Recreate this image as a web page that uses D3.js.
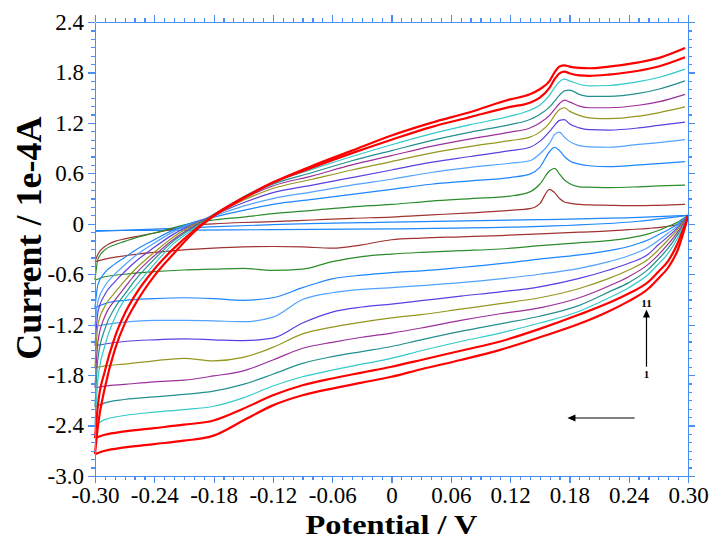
<!DOCTYPE html>
<meta charset="utf-8">
<title>CV scans</title>
<style>
body { margin: 0; background: #fff; }
svg { display: block; font-family: "Liberation Serif", "Times New Roman", serif; }
.axis path, .axis line { stroke: #4a8ff5; stroke-width: 1.2; shape-rendering: crispEdges; }
.axis text { fill: #000; font-size: 23px; }
.title { font-weight: bold; fill: #000; }
.scan { fill: none; }
</style>
<body>
<div id="chart"></div>
<script src="https://cdn.jsdelivr.net/npm/d3@7"></script>
<script>

// tick labels
var xTicks = [-0.30, -0.24, -0.18, -0.12, -0.06, 0, 0.06, 0.12, 0.18, 0.24, 0.30],
    xTickLabels = ['-0.30', '-0.24', '-0.18', '-0.12', '-0.06', '0', '0.06', '0.12', '0.18', '0.24', '0.30'],
    yTicks = [2.4, 1.8, 1.2, 0.6, 0, -0.6, -1.2, -1.8, -2.4, -3.0],
    yTickLabels = ['2.4', '1.8', '1.2', '0.6', '0', '-0.6', '-1.2', '-1.8', '-2.4', '-3.0'];

// potentials of the forward (anodic) branch and the return (cathodic) branch
var upX = [-0.300, -0.297, -0.29, -0.28, -0.27, -0.26, -0.24, -0.22, -0.20, -0.18, -0.15, -0.12, -0.08, -0.04, 0.00,
           0.04, 0.08, 0.12, 0.14, 0.15, 0.16, 0.165, 0.17, 0.175, 0.18, 0.19, 0.20, 0.22, 0.25, 0.27, 0.297];
var loX = [0.30, 0.298, 0.295, 0.29, 0.28, 0.27, 0.26, 0.24, 0.22, 0.19, 0.15, 0.11, 0.07, 0.03, 0.0,
           -0.03, -0.06, -0.09, -0.12, -0.15, -0.18, -0.21, -0.24, -0.27, -0.29, -0.30];

// current, 1e-4 A, scans 1..11
var up1  = [-0.45, -0.36, -0.27, -0.21, -0.18, -0.155, -0.11, -0.06, -0.015, 0.0, 0.015, 0.025, 0.045, 0.065, 0.08,
            0.105, 0.13, 0.16, 0.18, 0.24, 0.41, 0.37, 0.30, 0.26, 0.245, 0.23, 0.225, 0.22, 0.215, 0.22, 0.23];
var up2  = [-0.67, -0.42, -0.31, -0.25, -0.21, -0.17, -0.11, -0.045, 0.01, 0.045, 0.08, 0.12, 0.16, 0.20, 0.23,
            0.27, 0.30, 0.33, 0.38, 0.47, 0.63, 0.66, 0.59, 0.52, 0.48, 0.44, 0.435, 0.43, 0.44, 0.45, 0.46];
var up3  = [-1.0, -0.72, -0.58, -0.48, -0.40, -0.32, -0.19, -0.07, 0.02, 0.08, 0.16, 0.23, 0.29, 0.35, 0.41,
            0.47, 0.51, 0.55, 0.59, 0.67, 0.86, 0.91, 0.87, 0.80, 0.75, 0.71, 0.69, 0.68, 0.70, 0.715, 0.74];
var up4  = [-1.22, -0.92, -0.74, -0.60, -0.49, -0.39, -0.23, -0.09, 0.01, 0.09, 0.21, 0.30, 0.38, 0.46, 0.53,
            0.61, 0.67, 0.72, 0.75, 0.83, 0.96, 1.06, 1.09, 1.03, 0.98, 0.93, 0.915, 0.91, 0.945, 0.965, 1.0];
var up5  = [-1.45, -1.05, -0.84, -0.69, -0.57, -0.46, -0.28, -0.12, 0.0, 0.10, 0.25, 0.37, 0.46, 0.55, 0.64,
            0.73, 0.80, 0.87, 0.91, 0.98, 1.10, 1.17, 1.23, 1.24, 1.19, 1.14, 1.12, 1.115, 1.14, 1.17, 1.21];
var up6  = [-1.71, -1.20, -0.98, -0.82, -0.68, -0.55, -0.34, -0.15, -0.01, 0.10, 0.28, 0.42, 0.53, 0.64, 0.74,
            0.84, 0.92, 0.99, 1.03, 1.09, 1.20, 1.29, 1.36, 1.38, 1.34, 1.29, 1.26, 1.25, 1.28, 1.32, 1.39];
var up7  = [-1.95, -1.40, -1.10, -0.91, -0.76, -0.61, -0.38, -0.18, -0.03, 0.11, 0.30, 0.45, 0.57, 0.70, 0.81,
            0.92, 1.01, 1.09, 1.14, 1.20, 1.29, 1.36, 1.43, 1.47, 1.45, 1.40, 1.38, 1.38, 1.41, 1.45, 1.54];
var up8  = [-2.18, -1.60, -1.25, -1.00, -0.84, -0.68, -0.42, -0.20, -0.04, 0.11, 0.31, 0.47, 0.61, 0.75, 0.87,
            0.99, 1.09, 1.18, 1.24, 1.30, 1.39, 1.46, 1.53, 1.58, 1.59, 1.54, 1.515, 1.515, 1.55, 1.60, 1.70];
var up9  = [-2.39, -1.85, -1.45, -1.12, -0.90, -0.76, -0.48, -0.23, -0.06, 0.10, 0.32, 0.49, 0.65, 0.80, 0.94,
            1.07, 1.18, 1.28, 1.35, 1.41, 1.53, 1.62, 1.69, 1.72, 1.70, 1.66, 1.64, 1.645, 1.69, 1.74, 1.84];
var up10 = [-2.55, -2.15, -1.75, -1.35, -1.07, -0.86, -0.54, -0.29, -0.08, 0.10, 0.31, 0.49, 0.67, 0.84, 1.00,
            1.15, 1.27, 1.39, 1.44, 1.50, 1.62, 1.72, 1.79, 1.81, 1.79, 1.765, 1.76, 1.775, 1.82, 1.87, 1.98];
var up11 = [-2.74, -2.40, -1.95, -1.50, -1.19, -0.97, -0.62, -0.35, -0.10, 0.09, 0.30, 0.49, 0.69, 0.87, 1.05,
            1.20, 1.33, 1.48, 1.54, 1.60, 1.70, 1.80, 1.87, 1.885, 1.87, 1.855, 1.85, 1.87, 1.92, 1.97, 2.09];

var lo1  = [0.10, 0.06, 0.03, -0.005, -0.03, -0.045, -0.055, -0.07, -0.085, -0.10, -0.12, -0.14, -0.155, -0.17, -0.19,
            -0.25, -0.29, -0.275, -0.27, -0.275, -0.29, -0.31, -0.34, -0.38, -0.42, -0.45];
var lo2  = [0.10, 0.085, 0.06, 0.02, -0.03, -0.08, -0.12, -0.17, -0.20, -0.225, -0.26, -0.30, -0.32, -0.34, -0.36,
            -0.39, -0.45, -0.54, -0.555, -0.53, -0.54, -0.55, -0.57, -0.60, -0.63, -0.67];
var lo3  = [0.10, 0.08, 0.05, 0.0, -0.07, -0.13, -0.19, -0.27, -0.32, -0.37, -0.42, -0.475, -0.52, -0.56, -0.58,
            -0.61, -0.655, -0.76, -0.88, -0.91, -0.89, -0.88, -0.89, -0.91, -0.95, -1.0];
var lo4  = [0.10, 0.075, 0.04, -0.02, -0.11, -0.20, -0.28, -0.38, -0.45, -0.53, -0.60, -0.655, -0.70, -0.735, -0.76,
            -0.78, -0.82, -0.90, -1.11, -1.165, -1.155, -1.15, -1.15, -1.17, -1.20, -1.22];
var lo5  = [0.10, 0.07, 0.03, -0.04, -0.15, -0.25, -0.36, -0.47, -0.55, -0.65, -0.75, -0.81, -0.86, -0.915, -0.955,
            -0.99, -1.05, -1.18, -1.36, -1.39, -1.38, -1.37, -1.38, -1.40, -1.43, -1.45];
var lo6  = [0.10, 0.06, 0.02, -0.06, -0.19, -0.31, -0.42, -0.55, -0.65, -0.77, -0.88, -0.95, -1.015, -1.08, -1.12,
            -1.17, -1.23, -1.31, -1.47, -1.59, -1.63, -1.60, -1.63, -1.67, -1.69, -1.71];
var lo7  = [0.10, 0.05, 0.0, -0.09, -0.24, -0.37, -0.48, -0.63, -0.74, -0.88, -1.00, -1.07, -1.15, -1.24, -1.30,
            -1.35, -1.41, -1.48, -1.62, -1.75, -1.81, -1.86, -1.88, -1.91, -1.93, -1.95];
var lo8  = [0.10, 0.04, -0.02, -0.12, -0.29, -0.42, -0.54, -0.70, -0.81, -0.97, -1.10, -1.19, -1.28, -1.38, -1.46,
            -1.52, -1.58, -1.66, -1.79, -1.91, -1.99, -2.03, -2.06, -2.09, -2.13, -2.18];
var lo9  = [0.10, 0.03, -0.04, -0.16, -0.35, -0.48, -0.60, -0.76, -0.88, -1.04, -1.18, -1.30, -1.40, -1.51, -1.60,
            -1.67, -1.74, -1.82, -1.93, -2.07, -2.17, -2.21, -2.24, -2.28, -2.33, -2.39];
var lo10 = [0.10, 0.02, -0.07, -0.22, -0.44, -0.57, -0.69, -0.83, -0.94, -1.08, -1.25, -1.40, -1.51, -1.62, -1.70,
            -1.77, -1.84, -1.92, -2.04, -2.20, -2.34, -2.39, -2.43, -2.47, -2.51, -2.55];
var lo11 = [0.10, 0.0, -0.12, -0.30, -0.52, -0.65, -0.77, -0.92, -1.04, -1.19, -1.35, -1.50, -1.62, -1.73, -1.82,
            -1.89, -1.96, -2.04, -2.16, -2.34, -2.52, -2.58, -2.62, -2.66, -2.70, -2.74];

// blank (electrolyte only)
var blankX  = [-0.30, -0.20, -0.12, 0.0, 0.15, 0.25, 0.30],
    blankUp = [-0.09, -0.045, -0.01, 0.02, 0.05, 0.075, 0.10],
    blankLo = [-0.08, -0.075, -0.07, -0.06, -0.03, 0.03, 0.10];

var scanColors = ['#a03232', '#2b8c2b', '#1e86ff', '#52a2ff', '#5b3fe2', '#96961f',
                  '#9b309b', '#248f8f', '#33c9c9', '#ff0000', '#ff0000'];
var ups = [up1, up2, up3, up4, up5, up6, up7, up8, up9, up10, up11],
    los = [lo1, lo2, lo3, lo4, lo5, lo6, lo7, lo8, lo9, lo10, lo11];

var width = 713, height = 540,
    margin = {left: 95, right: 25, top: 22, bottom: 64};

var svg = d3.select('#chart').append('svg')
    .attr('width', width).attr('height', height);

var x = d3.scaleLinear().domain([-0.3, 0.3]).range([margin.left, width - margin.right]),
    y = d3.scaleLinear().domain([-3.0, 2.4]).range([height - margin.bottom, margin.top]);

var line = d3.line()
    .x(function(d){ return x(d[0]) })
    .y(function(d){ return y(d[1]) })
    .curve(d3.curveMonotoneX);

// blank
svg.append('path').attr('class', 'scan')
    .attr('d', line(d3.zip(blankX, blankUp)))
    .attr('stroke', '#1e86ff').attr('stroke-width', 1.2);
svg.append('path').attr('class', 'scan')
    .attr('d', line(d3.zip(blankX, blankLo)))
    .attr('stroke', '#1e86ff').attr('stroke-width', 1.2);

// scans
ups.forEach(function(u, i){
  var lw = i >= 9 ? 2.2 : 1.2;
  svg.append('path').attr('class', 'scan')
      .attr('d', line(d3.zip(upX, u)))
      .attr('stroke', scanColors[i]).attr('stroke-width', lw);
  svg.append('path').attr('class', 'scan')
      .attr('d', line(d3.zip(loX, los[i]).reverse()))
      .attr('stroke', scanColors[i]).attr('stroke-width', lw);
});

// axes: majors with labels, minors without, ticks outward on all four sides
var xMinor = d3.range(-30, 31).map(function(i){ return i / 100 }),
    yMinor = d3.range(-30, 25).map(function(i){ return i / 10 });

function axisPair(axisFn, scale, majors, minors, labels, transform){
  svg.append('g').attr('class', 'axis').attr('transform', transform)
      .call(axisFn(scale).tickValues(minors).tickSize(4).tickSizeOuter(0).tickFormat(''));
  var g = svg.append('g').attr('class', 'axis').attr('transform', transform)
      .call(axisFn(scale).tickValues(majors).tickSize(7).tickSizeOuter(0).tickPadding(4)
        .tickFormat(labels ? function(d, i){ return labels[i] } : ''));
  g.attr('font-family', null).attr('font-size', null);
}

axisPair(d3.axisBottom, x, xTicks, xMinor, xTickLabels, 'translate(0,' + y(-3.0) + ')');
axisPair(d3.axisTop, x, xTicks, xMinor, null, 'translate(0,' + y(2.4) + ')');
axisPair(d3.axisLeft, y, yTicks, yMinor, yTickLabels, 'translate(' + x(-0.3) + ',0)');
axisPair(d3.axisRight, y, yTicks, yMinor, null, 'translate(' + x(0.3) + ',0)');

// titles
svg.append('text').attr('class', 'title')
    .attr('x', x(0)).attr('y', 534)
    .attr('text-anchor', 'middle').attr('font-size', 28)
    .attr('textLength', 172).attr('lengthAdjust', 'spacingAndGlyphs')
    .text('Potential / V');
svg.append('text').attr('class', 'title')
    .attr('transform', 'translate(41,' + y(-0.17) + ') rotate(-90)')
    .attr('text-anchor', 'middle').attr('font-size', 36)
    .text('Current / 1e-4A');

// annotation arrows: scan 1 -> 11, and the scan direction
var vArrow = {x: 0.258, from: -1.70, to: -1.02},
    hArrow = {y: -2.31, from: 0.246, to: 0.178};

svg.append('line')
    .attr('x1', x(vArrow.x)).attr('x2', x(vArrow.x))
    .attr('y1', y(vArrow.from)).attr('y2', y(vArrow.to) + 6)
    .attr('stroke', '#000').attr('stroke-width', 1.2);
svg.append('path')
    .attr('d', 'M' + x(vArrow.x) + ',' + y(vArrow.to) + 'l-3.5,8h7z')
    .attr('fill', '#000');
svg.append('line')
    .attr('x1', x(hArrow.from)).attr('x2', x(hArrow.to) + 6)
    .attr('y1', y(hArrow.y)).attr('y2', y(hArrow.y))
    .attr('stroke', '#000').attr('stroke-width', 1.2);
svg.append('path')
    .attr('d', 'M' + x(hArrow.to) + ',' + y(hArrow.y) + 'l8,-3.5v7z')
    .attr('fill', '#000');

svg.append('text').attr('x', x(vArrow.x)).attr('y', y(vArrow.to) - 3)
    .attr('text-anchor', 'middle').attr('font-size', 11).attr('font-weight', 'bold')
    .text('11');
svg.append('text').attr('x', x(vArrow.x)).attr('y', y(vArrow.from) + 11)
    .attr('text-anchor', 'middle').attr('font-size', 11).attr('font-weight', 'bold')
    .text('1');

</script>
</body>
